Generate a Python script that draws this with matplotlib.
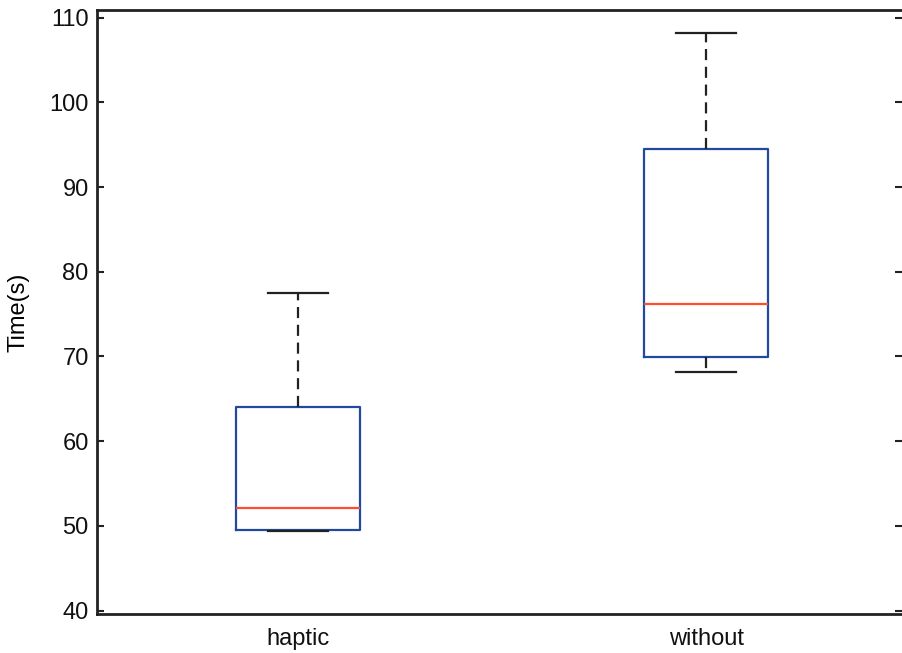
import matplotlib
matplotlib.use("Agg")
from matplotlib import pyplot as plt

plt.rcParams['font.family'] = ['Liberation Sans', 'DejaVu Sans']

groups = ['haptic', 'without']
whislo = [49.4, 68.2]
q1 = [49.5, 69.9]
med = [52.1, 76.2]
q3 = [64.0, 94.5]
whishi = [77.5, 108.2]

stats = []
for i, g in enumerate(groups):
    stats.append(dict(label=g, whislo=whislo[i], q1=q1[i], med=med[i],
                      q3=q3[i], whishi=whishi[i], fliers=[]))

fig = plt.figure(figsize=(9.02, 6.53), dpi=100)
ax = fig.add_axes([97 / 902, 39 / 653, 805 / 902, 604 / 653])

ax.bxp(stats, positions=[1, 2], widths=0.305, showfliers=False,
       boxprops=dict(color='#2149a0', linewidth=1.6),
       medianprops=dict(color='#ff4d2e', linewidth=1.6),
       whiskerprops=dict(color='#222222', linewidth=1.6, linestyle=(0, (5, 3))),
       capprops=dict(color='#222222', linewidth=1.6),
       capwidths=0.147)

ax.set_xlim(0.507, 2.48)
ax.set_ylim(39.6, 110.9)
ax.set_yticks([40, 50, 60, 70, 80, 90, 100, 110])
ax.set_ylabel('Time(s)', fontsize=17, labelpad=14)

ax.spines['right'].set_visible(False)
for s in ['left', 'top', 'bottom']:
    ax.spines[s].set_linewidth(2)
    ax.spines[s].set_color('#222222')

ax.tick_params(axis='y', direction='in', length=5, width=1.5, right=True,
               labelsize=17, pad=6, colors='#222222', labelcolor='#111111')
ax.tick_params(axis='x', length=0, labelsize=17, pad=10, labelcolor='#111111')

fig.savefig('out.png', dpi=100)
